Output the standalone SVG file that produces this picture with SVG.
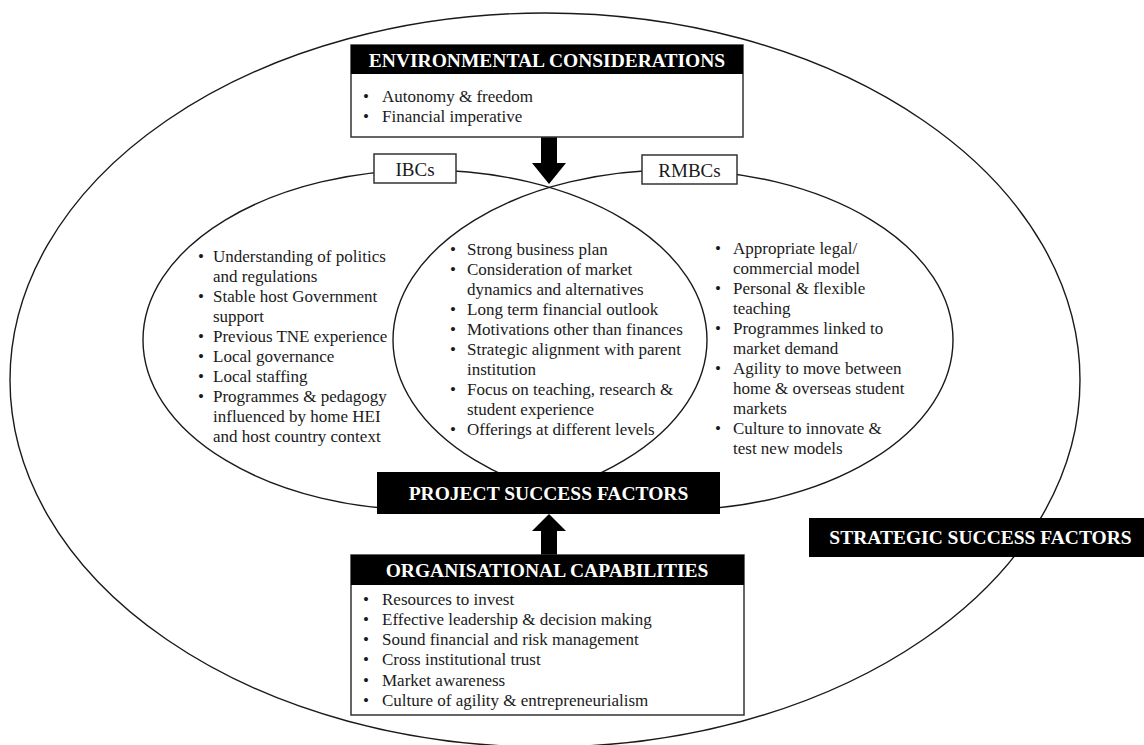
<svg xmlns="http://www.w3.org/2000/svg" width="1144" height="745" viewBox="0 0 1144 745">
<style>
.t{font-family:"Liberation Serif","Times New Roman",serif;font-size:17px;fill:#1a1a1a}
.h{font-family:"Liberation Serif","Times New Roman",serif;font-size:19.5px;font-weight:bold;fill:#fff;text-anchor:middle}
.lbl{font-family:"Liberation Serif","Times New Roman",serif;font-size:19px;fill:#1a1a1a;text-anchor:middle}
.ell{fill:none;stroke:#1a1a1a;stroke-width:1.4}
.box{fill:#fff;stroke:#333;stroke-width:1.5}
.hdr{fill:#000}
.arr{fill:#000}
</style>
<rect width="1144" height="745" fill="#fff"/>
<g id="strategic-ellipse">
<ellipse class="ell" cx="545" cy="380" rx="535" ry="367"/>
</g>
<g id="ibc-ellipse">
<ellipse class="ell" cx="425" cy="340" rx="282" ry="170"/>
</g>
<g id="rmbc-ellipse">
<ellipse class="ell" cx="673" cy="340" rx="280" ry="170"/>
</g>
<g id="connectors">
<polygon class="arr" points="541,137 557,137 557,163 566,163 549,184 532,163 541,163"/>
<polygon class="arr" points="541,555 557,555 557,531 566,531 549,514 532,531 541,531"/>
</g>
<g id="environmental">
<rect class="box" x="351" y="45" width="392" height="92"/>
<rect class="hdr" x="351" y="45" width="392" height="29"/>
<text class="h" x="547" y="67">ENVIRONMENTAL CONSIDERATIONS</text>
<text class="t" x="363" y="102">•</text><text class="t" x="382" y="102">Autonomy &amp; freedom</text>
<text class="t" x="363" y="122">•</text><text class="t" x="382" y="122">Financial imperative</text>
</g>
<g id="ibcs-label">
<rect class="box" x="374" y="154" width="82" height="29"/>
<text class="lbl" x="415" y="176">IBCs</text>
</g>
<g id="rmbcs-label">
<rect class="box" x="642" y="155" width="95" height="29"/>
<text class="lbl" x="689.5" y="177">RMBCs</text>
</g>
<g id="ibc-factors">
<text class="t" x="198" y="262">•</text><text class="t" x="213" y="262">Understanding of politics</text>
<text class="t" x="213" y="282">and regulations</text>
<text class="t" x="198" y="302">•</text><text class="t" x="213" y="302">Stable host Government</text>
<text class="t" x="213" y="322">support</text>
<text class="t" x="198" y="342">•</text><text class="t" x="213" y="342">Previous TNE experience</text>
<text class="t" x="198" y="362">•</text><text class="t" x="213" y="362">Local governance</text>
<text class="t" x="198" y="382">•</text><text class="t" x="213" y="382">Local staffing</text>
<text class="t" x="198" y="402">•</text><text class="t" x="213" y="402">Programmes &amp; pedagogy</text>
<text class="t" x="213" y="422">influenced by home HEI</text>
<text class="t" x="213" y="442">and host country context</text>
</g>
<g id="shared-factors">
<text class="t" x="450" y="255">•</text><text class="t" x="467" y="255">Strong business plan</text>
<text class="t" x="450" y="275">•</text><text class="t" x="467" y="275">Consideration of market</text>
<text class="t" x="467" y="295">dynamics and alternatives</text>
<text class="t" x="450" y="315">•</text><text class="t" x="467" y="315">Long term financial  outlook</text>
<text class="t" x="450" y="335">•</text><text class="t" x="467" y="335">Motivations other than finances</text>
<text class="t" x="450" y="355">•</text><text class="t" x="467" y="355">Strategic alignment with parent</text>
<text class="t" x="467" y="375">institution</text>
<text class="t" x="450" y="395">•</text><text class="t" x="467" y="395">Focus on teaching, research &amp;</text>
<text class="t" x="467" y="415">student experience</text>
<text class="t" x="450" y="435">•</text><text class="t" x="467" y="435">Offerings at different levels</text>
</g>
<g id="rmbc-factors">
<text class="t" x="715" y="254">•</text><text class="t" x="733" y="254">Appropriate legal/</text>
<text class="t" x="733" y="274">commercial model</text>
<text class="t" x="715" y="294">•</text><text class="t" x="733" y="294">Personal &amp; flexible</text>
<text class="t" x="733" y="314">teaching</text>
<text class="t" x="715" y="334">•</text><text class="t" x="733" y="334">Programmes linked to</text>
<text class="t" x="733" y="354">market demand</text>
<text class="t" x="715" y="374">•</text><text class="t" x="733" y="374">Agility  to move between</text>
<text class="t" x="733" y="394">home &amp; overseas student</text>
<text class="t" x="733" y="414">markets</text>
<text class="t" x="715" y="434">•</text><text class="t" x="733" y="434">Culture to innovate &amp;</text>
<text class="t" x="733" y="454">test new models</text>
</g>
<g id="project-success">
<rect class="hdr" x="377" y="472" width="343" height="42"/>
<text class="h" x="548.5" y="500">PROJECT SUCCESS FACTORS</text>
</g>
<g id="organisational">
<rect class="box" x="351" y="555" width="393" height="160"/>
<rect class="hdr" x="351" y="555" width="393" height="30"/>
<text class="h" x="547" y="577">ORGANISATIONAL CAPABILITIES</text>
<text class="t" x="363" y="605">•</text><text class="t" x="382" y="605">Resources to invest</text>
<text class="t" x="363" y="625">•</text><text class="t" x="382" y="625">Effective leadership &amp; decision making</text>
<text class="t" x="363" y="645">•</text><text class="t" x="382" y="645">Sound financial and risk management</text>
<text class="t" x="363" y="665">•</text><text class="t" x="382" y="665">Cross institutional trust</text>
<text class="t" x="363" y="686">•</text><text class="t" x="382" y="686">Market awareness</text>
<text class="t" x="363" y="706">•</text><text class="t" x="382" y="706">Culture of agility  &amp; entrepreneurialism</text>
</g>
<g id="strategic-success">
<rect class="hdr" x="809" y="518" width="335" height="39"/>
<text class="h" x="980.5" y="544">STRATEGIC SUCCESS FACTORS</text>
</g>
</svg>
